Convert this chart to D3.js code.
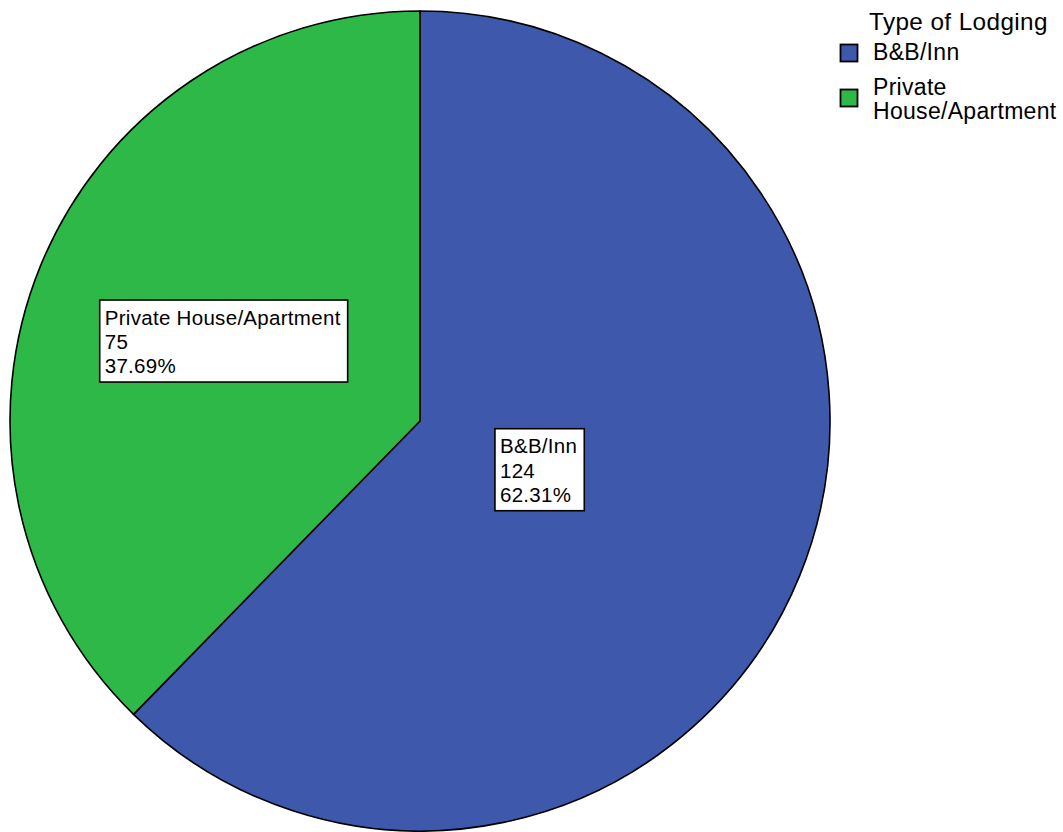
<!DOCTYPE html>
<html><head><meta charset="utf-8">
<script src="https://cdn.jsdelivr.net/npm/d3@7"></script>
<style>body{margin:0;background:#fff}svg{display:block}text{font-family:"Liberation Sans",Arial,sans-serif}</style>
</head><body>
<svg id="c" width="1063" height="832"></svg>
<script>
const categories = ["B&B/Inn", "Private House/Apartment"];
const legendLabels = [["B&B/Inn"], ["Private", "House/Apartment"]];
const counts = [124, 75];
const percents = ["62.31%", "37.69%"];
const colors = ["#3E58AC", "#2EB848"];
const labelRadiusFactor = [0.315, 0.517];

const svg = d3.select("#c");
const cx = 420, cy = 421, R = 410;
const g = svg.append("g").attr("transform", `translate(${cx},${cy})`);
const pie = d3.pie().sort(null).value(d => d)(counts);
const arc = d3.arc().innerRadius(0).outerRadius(R);
g.selectAll("path.s").data(pie).join("path").attr("class","s")
  .attr("d", arc).attr("fill", (d,i) => colors[i])
  .attr("stroke", "#000").attr("stroke-width", 1.6).attr("stroke-linejoin","round");

// labels
const fs = 20.5, lh = 24.3, ls = 0.3;
pie.forEach((d, i) => {
  const a = (d.startAngle + d.endAngle) / 2;
  const r = R * labelRadiusFactor[i];
  const x = Math.sin(a) * r, y = -Math.cos(a) * r;
  const lines = [categories[i], String(counts[i]), percents[i]];
  const lg = g.append("g");
  const t = lg.append("text").attr("font-size", fs).attr("letter-spacing", ls).attr("fill","#000");
  lines.forEach((l, k) => t.append("tspan").attr("x", 0).attr("y", k * lh).text(l));
  const bb = t.node().getBBox();
  const padL = 5, padR = 7;
  const w = bb.width + padL + padR, h = 82;
  const bx = x - w / 2, by = y - h / 2;
  lg.insert("rect", "text").attr("x", bx).attr("y", by).attr("width", w).attr("height", h)
    .attr("fill", "#fff").attr("stroke", "#000").attr("stroke-width", 1.6);
  t.attr("transform", `translate(${bx + padL - bb.x},${by + 24.5})`);
});

// legend
const leg = svg.append("g");
leg.append("text").attr("x", 869).attr("y", 30).attr("font-size", 24.3).attr("letter-spacing", 0.4).text("Type of Lodging");
const rowY = [44.5, 89.5];
legendLabels.forEach((lines, i) => {
  leg.append("rect").attr("x", 840.5).attr("y", rowY[i]).attr("width", 17).attr("height", 17)
    .attr("fill", colors[i]).attr("stroke", "#000").attr("stroke-width", 1.8);
  const t = leg.append("text").attr("font-size", 23).attr("letter-spacing", 0.3);
  lines.forEach((l, k) => t.append("tspan").attr("x", 873).attr("y", (i === 0 ? 59.5 : 94.5) + k * 24.5).text(l));
});
</script>
</body></html>
